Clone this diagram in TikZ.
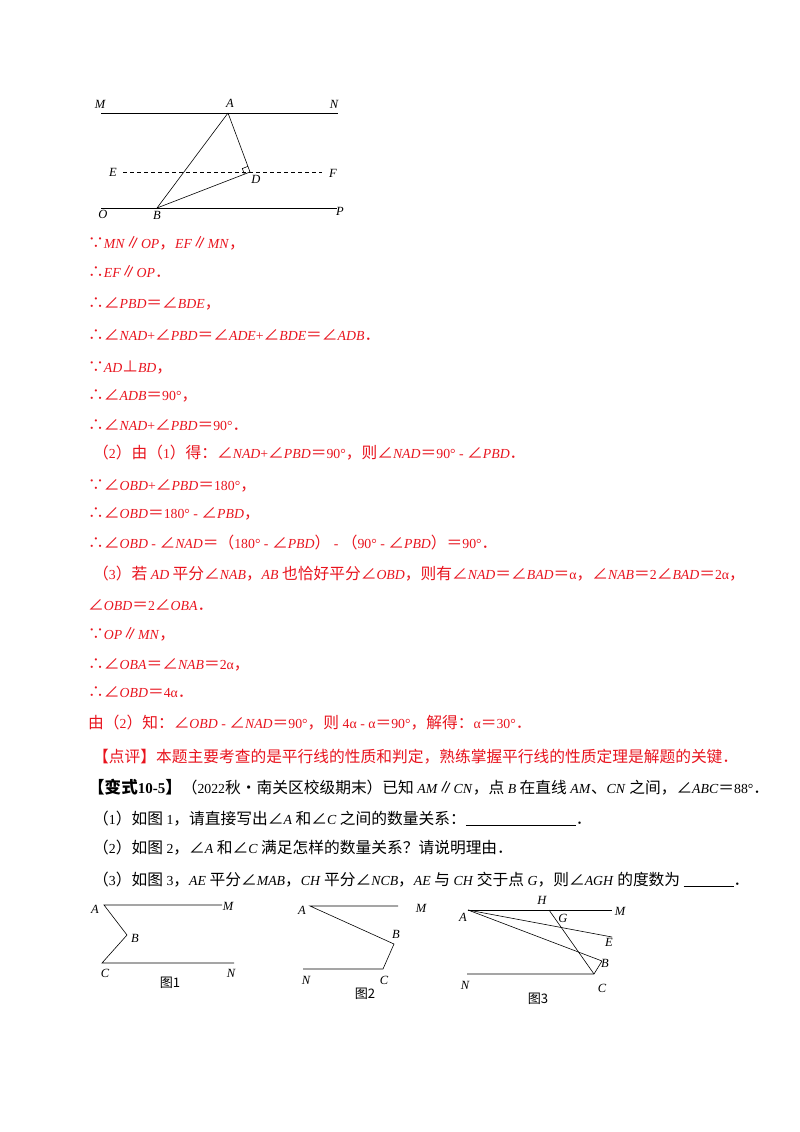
\documentclass[tikz,border=0pt]{standalone}
\usepackage{fontspec}
\usetikzlibrary{calc}
\setmainfont{Liberation Serif}
\newfontfamily\cjk[Scale=1.14]{Noto Sans CJK SC}
\newcommand\zh[1]{{\cjk #1}}
\newcommand\I[1]{\textit{#1}}
\definecolor{ans}{HTML}{E8141E}
\begin{document}
\begin{tikzpicture}[x=1pt,y=-1pt,
  tl/.style={anchor=base west,inner sep=0pt,font=\fontsize{13.8}{15}\selectfont},
  rl/.style={tl,text=ans},
  lab/.style={inner sep=0pt,font=\fontsize{12.5}{14}\selectfont\itshape},
  figcap/.style={inner sep=0pt,font=\cjk\fontsize{11.5}{13}\selectfont},
  ln/.style={line width=0.8pt},
  thin/.style={line width=0.6pt}]
\useasboundingbox (0,0) rectangle (800,1132);
% top figure
\coordinate (M1) at (101,113); \coordinate (N1) at (338,113);
\coordinate (A) at (228,113); \coordinate (D) at (250,172);
\coordinate (E1) at (123,172); \coordinate (F1) at (322,172);
\coordinate (O1) at (101,208); \coordinate (P1) at (337,208);
\coordinate (B) at (157,208);
\draw[ln] (M1) -- (N1); \draw[ln] (O1) -- (P1);
\draw[thin,dashed,dash pattern=on 4pt off 3pt] (E1) -- (F1);
\draw[thin] (A) -- (D) -- (B) -- (A);
\draw[thin] ($(D)!6pt!(A)$) -- ($(D)!6pt!(A)+(D)!6pt!(B)-(D)$) -- ($(D)!6pt!(B)$);
\node[lab] (lM) at (100,104) {M}; \node[lab] (lA) at (230,103) {A}; \node[lab] (lN) at (334,104) {N};
\node[lab] (lE) at (113,172) {E}; \node[lab] (lD) at (256,179) {D}; \node[lab] (lF) at (333,173) {F};
\node[lab] (lO) at (103,214) {O}; \node[lab] (lB) at (157,215) {B}; \node[lab] (lP) at (340,211) {P};
% text
\node[rl] (t1) at (88,248) {\zh{∵}\I{MN}\zh{∥}\I{OP}\zh{，}\I{EF}\zh{∥}\I{MN}\zh{，}};
\node[rl] (t2) at (88,277) {\zh{∴}\I{EF}\zh{∥}\I{OP}\zh{．}};
\node[rl] (t3) at (88,308) {\zh{∴∠}\I{PBD}\zh{＝∠}\I{BDE}\zh{，}};
\node[rl] (t4) at (88,340) {\zh{∴∠}\I{NAD}+\zh{∠}\I{PBD}\zh{＝∠}\I{ADE}+\zh{∠}\I{BDE}\zh{＝∠}\I{ADB}\zh{．}};
\node[rl] (t5) at (88,372) {\zh{∵}\I{AD}\zh{⊥}\I{BD}\zh{，}};
\node[rl] (t6) at (88,400) {\zh{∴∠}\I{ADB}\zh{＝}90°\zh{，}};
\node[rl] (t7) at (88,430) {\zh{∴∠}\I{NAD}+\zh{∠}\I{PBD}\zh{＝}90°\zh{．}};
\node[rl] (t8) at (93,458) {\zh{（}2\zh{）由（}1\zh{）得：∠}\I{NAD}+\zh{∠}\I{PBD}\zh{＝}90°\zh{，则∠}\I{NAD}\zh{＝}90° - \zh{∠}\I{PBD}\zh{．}};
\node[rl] (t9) at (88,490) {\zh{∵∠}\I{OBD}+\zh{∠}\I{PBD}\zh{＝}180°\zh{，}};
\node[rl] (t10) at (88,518) {\zh{∴∠}\I{OBD}\zh{＝}180° - \zh{∠}\I{PBD}\zh{，}};
\node[rl] (t11) at (88,548) {\zh{∴∠}\I{OBD} - \zh{∠}\I{NAD}\zh{＝（}180° - \zh{∠}\I{PBD}\zh{）} - \zh{（}90° - \zh{∠}\I{PBD}\zh{）＝}90°\zh{．}};
\node[rl] (t12) at (93,579) {\zh{（}3\zh{）若 }\I{AD}\zh{ 平分∠}\I{NAB}\zh{，}\I{AB}\zh{ 也恰好平分∠}\I{OBD}\zh{，则有∠}\I{NAD}\zh{＝∠}\I{BAD}\zh{＝}α\zh{，∠}\I{NAB}\zh{＝}2\zh{∠}\I{BAD}\zh{＝}2α\zh{，}};
\node[rl] (t13) at (88,610) {\zh{∠}\I{OBD}\zh{＝}2\zh{∠}\I{OBA}\zh{．}};
\node[rl] (t14) at (88,639) {\zh{∵}\I{OP}\zh{∥}\I{MN}\zh{，}};
\node[rl] (t15) at (88,669) {\zh{∴∠}\I{OBA}\zh{＝∠}\I{NAB}\zh{＝}2α\zh{，}};
\node[rl] (t16) at (88,697) {\zh{∴∠}\I{OBD}\zh{＝}4α\zh{．}};
\node[rl] (t17) at (88,728) {\zh{由（}2\zh{）知：∠}\I{OBD} - \zh{∠}\I{NAD}\zh{＝}90°\zh{，则 }4α - α\zh{＝}90°\zh{，解得：}α\zh{＝}30°\zh{．}};
\node[rl] (t18) at (93,762) {\zh{【点评】本题主要考查的是平行线的性质和判定，熟练掌握平行线的性质定理是解题的关键．}};
\node[tl] (t19) at (88,793) {{\cjk\bfseries\fontsize{14.5}{16}\selectfont 【变式}\textbf{\fontsize{15}{16}\selectfont 10-5}{\cjk\bfseries\fontsize{14.5}{16}\selectfont 】}\zh{（}2022\zh{秋•南关区校级期末）已知 }\I{AM}\zh{∥}\I{CN}\zh{，点 }\I{B}\zh{ 在直线 }\I{AM}\zh{、}\I{CN}\zh{ 之间，∠}\I{ABC}\zh{＝}88°\zh{．}};
\node[tl] (t20) at (93,824) {\zh{（}1\zh{）如图 }1\zh{，请直接写出∠}\I{A}\zh{ 和∠}\I{C}\zh{ 之间的数量关系：}\underline{\hspace{110pt}}\zh{．}};
\node[tl] (t21) at (93,853) {\zh{（}2\zh{）如图 }2\zh{，∠}\I{A}\zh{ 和∠}\I{C}\zh{ 满足怎样的数量关系？请说明理由．}};
\node[tl] (t22) at (93,885) {\zh{（}3\zh{）如图 }3\zh{，}\I{AE}\zh{ 平分∠}\I{MAB}\zh{，}\I{CH}\zh{ 平分∠}\I{NCB}\zh{，}\I{AE}\zh{ 与 }\I{CH}\zh{ 交于点 }\I{G}\zh{，则∠}\I{AGH}\zh{ 的度数为 }\underline{\hspace{50pt}}\zh{．}};
% fig 1
\coordinate (a1) at (104,905); \coordinate (m1) at (222,905); \coordinate (b1) at (127,935);
\coordinate (c1) at (102,963); \coordinate (n1) at (234,963);
\draw[thin] (m1) -- (a1) -- (b1) -- (c1) -- (n1);
\node[lab] (f1A) at (95,909) {A}; \node[lab] (f1M) at (228,906) {M}; \node[lab] (f1B) at (135,938) {B};
\node[lab] (f1C) at (105,973) {C}; \node[lab] (f1N) at (231,973) {N};
\node[figcap] (cap1) at (170,983) {图1};
% fig 2
\coordinate (a2) at (310,906); \coordinate (m2) at (398,906); \coordinate (b2) at (394,944);
\coordinate (c2) at (383,969); \coordinate (n2) at (303,969);
\draw[thin] (m2) -- (a2) -- (b2) -- (c2) -- (n2);
\node[lab] (f2A) at (302,910) {A}; \node[lab] (f2M) at (421,908) {M}; \node[lab] (f2B) at (396,934) {B};
\node[lab] (f2C) at (384,980) {C}; \node[lab] (f2N) at (306,980) {N};
\node[figcap] (cap2) at (365,994) {图2};
% fig 3
\coordinate (a3) at (468,910); \coordinate (m3) at (612,910); \coordinate (h3) at (549,910);
\coordinate (e3) at (612,937); \coordinate (b3) at (602,961); \coordinate (c3) at (594,974);
\coordinate (n3) at (467,974);
\draw[thin] (a3) -- (m3); \draw[thin] (a3) -- (e3); \draw[thin] (a3) -- (b3) -- (c3) -- (n3);
\draw[thin] (h3) -- (c3);
\node[lab] (f3A) at (463,917) {A}; \node[lab] (f3H) at (542,900) {H}; \node[lab] (f3M) at (620,911) {M};
\node[lab] (f3G) at (563,918) {G}; \node[lab] (f3E) at (609,942) {E}; \node[lab] (f3B) at (605,963) {B};
\node[lab] (f3C) at (602,988) {C}; \node[lab] (f3N) at (465,985) {N};
\node[figcap] (cap3) at (538,999) {图3};
\end{tikzpicture}
\end{document}
